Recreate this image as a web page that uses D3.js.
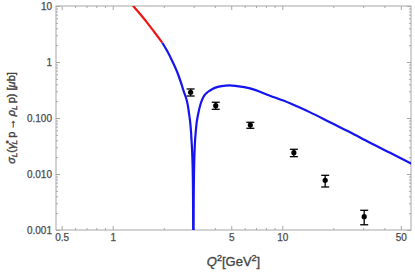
<!DOCTYPE html>
<html lang="en">
<head>
    <meta charset="UTF-8">
    <title>sigma_L</title>
    <style>
        body { margin: 0; background: #fff; }
        text { font-family: "Liberation Sans", Arial, sans-serif; }
    </style>
</head>
<body>
<div id="chart"></div>
<script src="https://cdn.jsdelivr.net/npm/d3@7"></script>
<script>
    const width = 415,
        height = 273;
    const margin = {"top": 6, "left": 56, "bottom": 43, "right": 4};

    // model curve, red part (low Q2) and blue part
    const redQ2 = [1.25, 1.323, 1.45, 1.6, 1.75, 1.96];
    const redSigma = [12.4, 10, 7.2, 5.0, 3.5, 2.21];
    const blueQ2 = [1.96, 2.1, 2.228, 2.437, 2.608, 2.80, 2.915, 2.963, 2.977, 2.99, 3.003, 3.03, 3.1, 3.197, 3.3, 3.42, 3.58, 3.75,
        4.0, 4.39, 4.9, 5.4, 6.45, 8.46, 11.1, 14.6, 19.1, 25.1, 32.9, 43.2, 58];
    const blueSigma = [2.21, 1.55, 1.086, 0.586, 0.316, 0.139, 0.0405, 0.0118, 0.0034, 0.0001, 0.0034, 0.02, 0.065, 0.121, 0.18, 0.235, 0.280, 0.310,
        0.345, 0.372, 0.383, 0.372, 0.339, 0.250, 0.183, 0.126, 0.0838, 0.0555, 0.0362, 0.0240, 0.0152];

    // measured points with errors
    const dataQ2 = [2.88, 4.05, 6.48, 11.7, 17.9, 30.4];
    const dataSigma = [0.288, 0.166, 0.075, 0.024, 0.0077, 0.00173];
    const dataLo = [0.247, 0.143, 0.0655, 0.0204, 0.00586, 0.00124];
    const dataHi = [0.330, 0.191, 0.0838, 0.0276, 0.00948, 0.00225];

    const xTicks = [0.5, 1, 5, 10, 50];
    const xMinor = [0.6, 0.7, 0.8, 0.9, 2, 3, 4, 6, 7, 8, 9, 20, 30, 40];
    const yTicks = [0.001, 0.01, 0.1, 1, 10];
    const yTickLabels = ["0.001", "0.010", "0.100", "1", "10"];
    const yMinor = [];
    [0.001, 0.01, 0.1, 1].forEach(d => { for (let k = 2; k <= 9; k++) yMinor.push(d * k); });

    const w = width - margin.left - margin.right,
        h = height - margin.top - margin.bottom;

    const xScale = d3.scaleLog().domain([0.463, 57.4]).range([0, w]);
    const yScale = d3.scaleLog().domain([0.001, 10]).range([h, 0]);

    const svg = d3.select("#chart")
        .append("svg")
        .attr("width", width)
        .attr("height", height);

    const g = svg.append("g")
        .attr("transform", `translate(${margin.left},${margin.top})`);

    g.append("clipPath").attr("id", "clip")
        .append("rect").attr("width", w).attr("height", h);

    const frameColor = "#a6a6a6",
        labelColor = "#4a4a4a";

    // axes: bottom/left with labels, top/right mirrored
    function tickAxis(axisFn, scale, major, minor, fmt, transform) {
        const a = g.append("g").attr("transform", transform);
        a.call(axisFn(scale).tickValues(major).tickSize(-4).tickPadding(4).tickFormat(fmt));
        a.append("g").call(axisFn(scale).tickValues(minor).tickSize(-2).tickFormat(""));
        a.selectAll(".domain").remove();
        a.selectAll("line").attr("stroke", frameColor);
        a.selectAll("text")
            .attr("fill", labelColor)
            .attr("stroke", labelColor)
            .attr("stroke-width", 0.25)
            .style("font-size", "10px")
            .style("font-family", "Liberation Sans, Arial, sans-serif");
        return a;
    }

    tickAxis(d3.axisBottom, xScale, xTicks, xMinor, d => String(d), `translate(0,${h})`);
    tickAxis(d3.axisTop, xScale, xTicks, xMinor, "", "translate(0,0)")
        .selectAll("line").attr("y2", d => xTicks.includes(d) ? 4 : 2);
    tickAxis(d3.axisLeft, yScale, yTicks, yMinor, (d, i) => yTickLabels[i], "translate(0,0)");
    tickAxis(d3.axisRight, yScale, yTicks, yMinor, "", `translate(${w},0)`)
        .selectAll("line").attr("x2", d => yTicks.includes(d) ? -4 : -2);

    g.append("rect")
        .attr("width", w).attr("height", h)
        .attr("fill", "none")
        .attr("stroke", frameColor)
        .attr("stroke-width", 1);

    const line = d3.line()
        .x(d => xScale(d[0]))
        .y(d => yScale(d[1]))
        .curve(d3.curveMonotoneX);

    const curves = g.append("g").attr("clip-path", "url(#clip)");
    curves.append("path")
        .datum(blueQ2.map((q, i) => [q, blueSigma[i]]))
        .attr("d", line)
        .attr("fill", "none")
        .attr("stroke", "#1414ee")
        .attr("stroke-width", 2.2)
        .attr("stroke-linejoin", "round");
    curves.append("path")
        .datum(redQ2.map((q, i) => [q, redSigma[i]]))
        .attr("d", line)
        .attr("fill", "none")
        .attr("stroke", "#ee1414")
        .attr("stroke-width", 2.2);

    // error bars
    const pts = g.append("g");
    dataQ2.forEach((q, i) => {
        const cx = xScale(q);
        const eb = pts.append("g").attr("stroke", "#000").attr("stroke-width", 1.3);
        eb.append("line").attr("x1", cx).attr("x2", cx).attr("y1", yScale(dataLo[i])).attr("y2", yScale(dataHi[i]));
        eb.append("line").attr("x1", cx - 4).attr("x2", cx + 4).attr("y1", yScale(dataLo[i])).attr("y2", yScale(dataLo[i]));
        eb.append("line").attr("x1", cx - 4).attr("x2", cx + 4).attr("y1", yScale(dataHi[i])).attr("y2", yScale(dataHi[i]));
        pts.append("circle").attr("cx", cx).attr("cy", yScale(dataSigma[i])).attr("r", 2.6).attr("fill", "#000");
    });

    // axis titles
    const titleColor = "#444";
    const xt = svg.append("text")
        .attr("x", margin.left + w / 2)
        .attr("y", 266)
        .attr("text-anchor", "middle")
        .attr("fill", titleColor)
        .attr("stroke", titleColor)
        .attr("stroke-width", 0.35)
        .style("font-size", "13px");
    xt.append("tspan").style("font-style", "italic").text("Q");
    xt.append("tspan").attr("dy", -5).style("font-size", "9px").text("2");
    xt.append("tspan").attr("dy", 5).text("[GeV");
    xt.append("tspan").attr("dy", -5).style("font-size", "9px").text("2");
    xt.append("tspan").attr("dy", 5).text("]");

    const yt = svg.append("text")
        .attr("transform", `translate(14.5,${margin.top + h / 2}) rotate(-90)`)
        .attr("text-anchor", "middle")
        .attr("fill", titleColor)
        .attr("stroke", titleColor)
        .attr("stroke-width", 0.4)
        .style("font-size", "11px");
    yt.append("tspan").style("font-style", "italic").text("σ");
    yt.append("tspan").attr("dy", 2.5).style("font-size", "8px").style("font-style", "italic").text("L");
    yt.append("tspan").attr("dy", -2.5).text("(");
    yt.append("tspan").style("font-style", "italic").text("γ");
    yt.append("tspan").attr("dy", -4).style("font-size", "8px").text("*");
    yt.append("tspan").attr("dx", -4).attr("dy", 6.5).style("font-size", "8px").style("font-style", "italic").text("L");
    yt.append("tspan").attr("dy", -2.5).text("\u2009p\u2009→\u2009");
    yt.append("tspan").style("font-style", "italic").text("ρ");
    yt.append("tspan").attr("dy", 2.5).style("font-size", "8px").style("font-style", "italic").text("L");
    yt.append("tspan").attr("dy", -2.5).text("\u2009p) [");
    yt.append("tspan").style("font-style", "italic").text("μ");
    yt.append("tspan").text("b]");
</script>
</body>
</html>
